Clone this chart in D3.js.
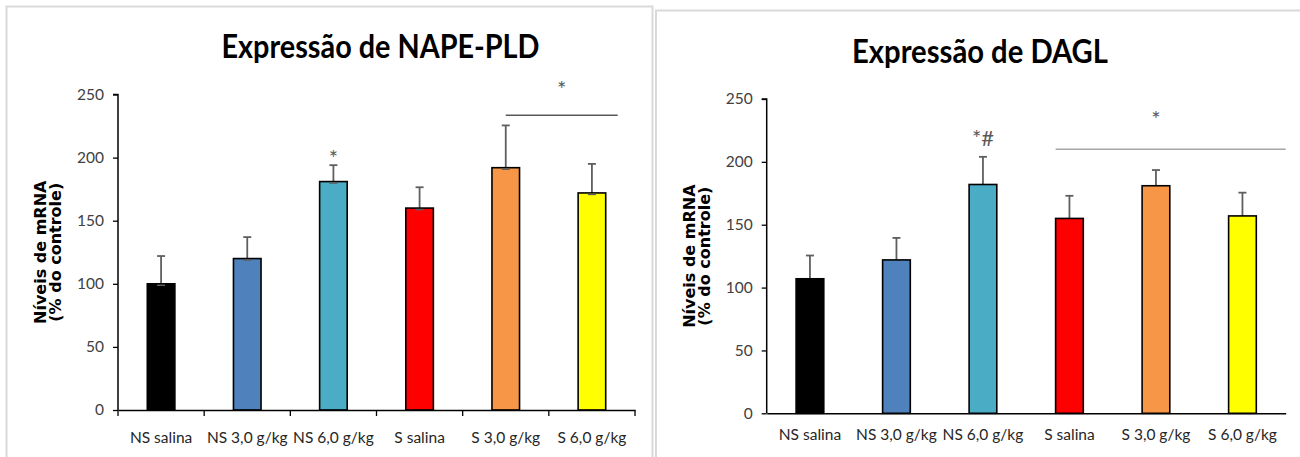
<!DOCTYPE html>
<html>
<head>
<meta charset="utf-8">
<script src="https://cdn.jsdelivr.net/npm/d3@7"></script>
<style>
  html, body { margin: 0; padding: 0; background: #fff; }
  svg { display: block; }
</style>
</head>
<body>
<svg id="chart" width="1300" height="457"></svg>
<script>
const categories = ["NS salina", "NS 3,0 g/kg", "NS 6,0 g/kg", "S salina", "S 3,0 g/kg", "S 6,0 g/kg"];
const barColors = ["#000000", "#4f81bd", "#4bacc6", "#ff0000", "#f79646", "#ffff00"];
const napeValues = [100, 120, 181, 160, 192, 172];
const napeErrors = [22, 17, 13, 16.5, 33.5, 23];
const daglValues = [107, 122, 182, 155, 181, 157];
const daglErrors = [18.5, 17.5, 22, 18, 12.5, 18.5];
const yTicks = [0, 50, 100, 150, 200, 250];
const napeTitle = "Expressão de NAPE-PLD";
const daglTitle = "Expressão de DAGL";
const yLabel1 = "Níveis de mRNA";
const yLabel2 = "(% do controle)";

const svg = d3.select("#chart");

// panel frames
svg.append("rect").attr("x", 6.5).attr("y", 6.5).attr("width", 646).attr("height", 470)
  .attr("fill", "#fff").attr("stroke", "#d9d9d9").attr("stroke-width", 2);
svg.append("rect").attr("x", 656).attr("y", 10.5).attr("width", 660).attr("height", 470)
  .attr("fill", "#fff").attr("stroke", "#d9d9d9").attr("stroke-width", 2);

function panel(cfg) {
  const g = svg.append("g");
  const x = d3.scaleBand().domain(categories).range([cfg.x0, cfg.x1]).paddingInner(0.68).paddingOuter(0.34);
  const y = d3.scaleLinear().domain([0, 250]).range([cfg.yb, cfg.yt]);

  // title
  g.append("text").attr("x", cfg.titleX).attr("y", cfg.titleY)
    .attr("text-anchor", "middle")
    .attr("font-family", "Lato, sans-serif").attr("font-weight", "bold")
    .attr("font-size", 32).attr("fill", "#000")
    .attr("textLength", cfg.titleW).attr("lengthAdjust", "spacingAndGlyphs")
    .text(cfg.title);

  // y axis
  const ya = g.append("g").attr("transform", `translate(${cfg.x0},0)`)
    .call(d3.axisLeft(y).tickValues(yTicks).tickSize(5).tickPadding(9));
  ya.select(".domain").attr("stroke", "#000").attr("stroke-width", 1.5).attr("d", `M-5,${y(250)}H0V${y(0)}`);
  ya.selectAll(".tick line").attr("stroke", "#000").attr("stroke-width", 1.3);
  ya.selectAll(".tick text").attr("font-family", "Lato, sans-serif").attr("font-size", 15.5).attr("fill", "#404040");

  // y label
  const lx = cfg.x0 - 72, ly = (y(0) + y(250)) / 2;
  const yl = g.append("text").attr("transform", `translate(${lx},${ly}) rotate(-90)`)
    .attr("text-anchor", "middle").attr("font-family", "'DejaVu Sans', sans-serif")
    .attr("font-weight", "bold").attr("font-size", 16).attr("fill", "#000");
  yl.append("tspan").attr("x", 0).attr("y", 0).text(yLabel1);
  yl.append("tspan").attr("x", 0).attr("y", 15).text(yLabel2);

  // bars
  const data = categories.map((c, i) => ({ c, v: cfg.values[i], e: cfg.errors[i], col: barColors[i] }));
  const eb = g.append("g").attr("stroke", "#5f5f5f").attr("stroke-width", 1.8);
  data.forEach(d => {
    const cx = x(d.c) + x.bandwidth() / 2;
    eb.append("line").attr("x1", cx).attr("x2", cx).attr("y1", y(d.v)).attr("y2", y(d.v + d.e));
    eb.append("line").attr("x1", cx - 4).attr("x2", cx + 4).attr("y1", y(d.v + d.e)).attr("y2", y(d.v + d.e));
  });
  g.append("g").selectAll("rect").data(data).join("rect")
    .attr("x", d => x(d.c)).attr("width", x.bandwidth())
    .attr("y", d => y(d.v)).attr("height", d => y(0) - y(d.v))
    .attr("fill", d => d.col).attr("stroke", "#000").attr("stroke-width", 1.6);
  if (cfg.lowCap) {
    const lc = g.append("g").attr("stroke", "#5f5f5f").attr("stroke-width", 1.5);
    data.forEach(d => {
      const cx = x(d.c) + x.bandwidth() / 2;
      lc.append("line").attr("x1", cx - 4).attr("x2", cx + 4).attr("y1", y(d.v) + 1.5).attr("y2", y(d.v) + 1.5);
    });
  }

  // x axis
  const xa = g.append("g").attr("transform", `translate(0,${y(0)})`)
    .call(d3.axisBottom(x).tickSize(0).tickPadding(cfg.labelPad));
  xa.select(".domain").attr("stroke", "#000").attr("stroke-width", 1.5);
  xa.selectAll(".tick text").attr("font-family", "Lato, sans-serif").attr("font-size", 15.5).attr("fill", "#262626");
  if (cfg.xTicks) {
    const bounds = d3.range(categories.length + 1).map(i => cfg.x0 + i * x.step());
    xa.selectAll("line.bound").data(bounds).join("line").attr("class", "bound")
      .attr("x1", d => d).attr("x2", d => d).attr("y1", 0).attr("y2", 6)
      .attr("stroke", "#000").attr("stroke-width", 1.3);
  }

  // significance annotations
  cfg.marks.forEach(m => {
    const cx = x(categories[m.cat]) + x.bandwidth() / 2;
    g.append("text").attr("x", cx).attr("y", y(m.at)).attr("text-anchor", "middle")
      .attr("font-family", "Lato, sans-serif").attr("font-size", 22).attr("fill", "#595959").text(m.text);
  });
  if (cfg.bracket) {
    const b = cfg.bracket;
    const xs = x(categories[b.from]) + (b.fromCenter ? x.bandwidth() / 2 : 0);
    const xe = b.toEnd ? cfg.x1 : x(categories[b.to]) + x.bandwidth() + 12;
    g.append("line").attr("x1", xs).attr("x2", xe).attr("y1", y(b.at)).attr("y2", y(b.at))
      .attr("stroke", b.color).attr("stroke-width", 1.6);
    g.append("text").attr("x", b.starCat != null ? x(categories[b.starCat]) + x.bandwidth() / 2 : (xs + xe) / 2)
      .attr("y", y(b.starAt))
      .attr("text-anchor", "middle").attr("font-family", "Lato, sans-serif")
      .attr("font-size", 22).attr("fill", "#595959").text("*");
  }
}

panel({
  x0: 118, x1: 635, yb: 410, yt: 94.5,
  title: napeTitle, titleX: 380.5, titleY: 58, titleW: 318,
  values: napeValues, errors: napeErrors, lowCap: true, xTicks: true, labelPad: 22,
  marks: [{ cat: 2, at: 193, text: "*" }],
  bracket: { from: 4, fromCenter: true, to: 5, toEnd: false, at: 233.5, starAt: 248, color: "#595959" }
});

panel({
  x0: 766.7, x1: 1285.7, yb: 413.3, yt: 99,
  title: daglTitle, titleX: 980, titleY: 63, titleW: 256,
  values: daglValues, errors: daglErrors, lowCap: false, xTicks: false, labelPad: 16,
  marks: [{ cat: 2, at: 213, text: "*#" }],
  bracket: { from: 3, fromCenter: false, to: 5, toEnd: true, at: 210, starAt: 228, starCat: 4, color: "#a6a6a6" }
});
</script>
</body>
</html>
